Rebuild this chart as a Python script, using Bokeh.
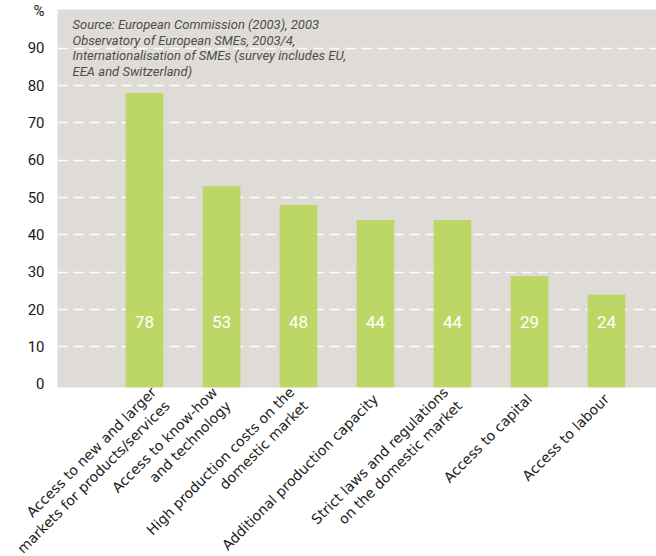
import math
from bokeh.plotting import figure
from bokeh.models import Range1d, FixedTicker, Label, ColumnDataSource
from bokeh.embed import file_html
from bokeh.resources import INLINE
from bokeh.core.properties import value

categories = [
    "Access to new and larger\nmarkets for products/services",
    "Access to know-how\nand technology",
    "High production costs on the\ndomestic market",
    "Additional production capacity",
    "Strict laws and regulations\non the domestic market",
    "Access to capital",
    "Access to labour",
]
values = [78, 53, 48, 44, 44, 29, 24]
value_labels = ["78", "53", "48", "44", "44", "29", "24"]
y_ticks = [0, 10, 20, 30, 40, 50, 60, 70, 80, 90, 100]
y_tick_labels = ["0", "10", "20", "30", "40", "50", "60", "70", "80", "90", "%"]
source_note = ("Source: European Commission (2003), 2003\n"
               "Observatory of European SMEs, 2003/4,\n"
               "Internationalisation of SMEs (survey includes EU,\n"
               "EEA and Switzerland)")

Y0 = -0.9
xs = list(range(len(categories)))

p = figure(frame_width=599, frame_height=378, output_backend="svg", toolbar_location=None,
           x_range=Range1d(-1.13, 6.65), y_range=Range1d(Y0, 100.4),
           min_border_left=57, min_border_right=0, min_border_top=9, min_border_bottom=0)
p.background_fill_color = "#dfdbd6"
p.border_fill_color = "white"
p.outline_line_color = None

src = ColumnDataSource(dict(x=xs, top=values, lab=value_labels,
                            ly=[16.6] * len(xs)))
p.vbar(x="x", top="top", bottom=Y0, width=0.49, source=src,
       fill_color="#bdd766", line_color=None)
p.text(x="x", y="ly", text="lab", source=src, text_color="white",
       text_font=value("Roboto"), text_font_size="17px",
       text_align="center", text_baseline="middle")

# axes
p.yaxis.ticker = FixedTicker(ticks=y_ticks)
p.yaxis.major_label_overrides = {t: l for t, l in zip(y_ticks, y_tick_labels)}
p.yaxis.axis_line_color = None
p.yaxis.major_tick_line_color = None
p.yaxis.minor_tick_line_color = None
p.yaxis.major_label_text_font = "Roboto"
p.yaxis.major_label_text_font_size = "15px"
p.yaxis.major_label_text_color = "#1a1a1a"
p.yaxis.major_label_standoff = 7

p.xaxis.ticker = FixedTicker(ticks=xs)
p.xaxis.major_label_overrides = {i: c for i, c in zip(xs, categories)}
p.xaxis.major_label_orientation = math.pi / 4
p.xaxis.axis_line_color = None
p.xaxis.major_tick_line_color = None
p.xaxis.minor_tick_line_color = None
p.xaxis.major_label_text_font = "DejaVu Sans"
p.xaxis.major_label_text_font_size = "14px"
p.xaxis.major_label_text_color = "#222222"
p.xaxis.major_label_standoff = 3

p.xgrid.grid_line_color = None
p.ygrid.ticker = FixedTicker(ticks=[10, 20, 30, 40, 50, 60, 70, 80, 90])
p.ygrid.grid_line_color = "white"
p.ygrid.grid_line_width = 1.3
p.ygrid.grid_line_dash = "10 6"

note = Label(x=-0.935, y=98.4, text=source_note, text_font="Roboto",
             text_font_style="italic", text_font_size="13px",
             text_color="#4d4d4d", text_baseline="top", text_align="left",
             text_line_height=1.05)
p.add_layout(note)

open("out.html", "w").write(file_html(p, INLINE))
